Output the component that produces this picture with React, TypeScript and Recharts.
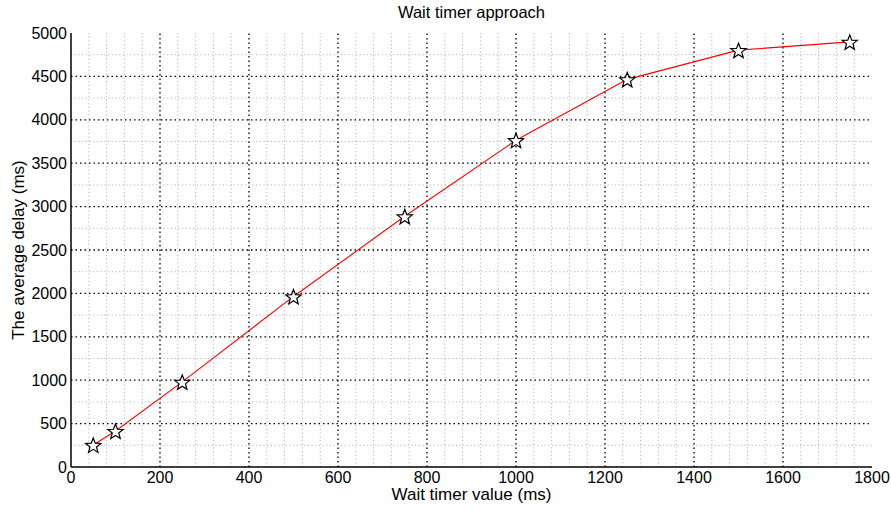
import { LineChart, Line, XAxis, YAxis, ReferenceLine } from "recharts";

const waitTimer = [50, 100, 250, 500, 750, 1000, 1250, 1500, 1750];
const avgDelay = [254, 415, 981, 1965, 2888, 3765, 4466, 4803, 4898];

const xTicks = [0, 200, 400, 600, 800, 1000, 1200, 1400, 1600, 1800];
const yTicks = [0, 500, 1000, 1500, 2000, 2500, 3000, 3500, 4000, 4500, 5000];
const xMinor = [40, 80, 120, 160, 240, 280, 320, 360, 440, 480, 520, 560, 640, 680, 720, 760, 840, 880, 920, 960, 1040, 1080, 1120, 1160, 1240, 1280, 1320, 1360, 1440, 1480, 1520, 1560, 1640, 1680, 1720, 1760];
const yMinor = [250, 750, 1250, 1750, 2250, 2750, 3250, 3750, 4250, 4750];

const data = waitTimer.map((x, i) => ({ x, y: avgDelay[i] }));

const FONT = "'Liberation Sans', Arial, Helvetica, sans-serif";

function Star(props: any) {
  const { cx, cy } = props;
  if (cx == null || cy == null) return null;
  const pts: string[] = [];
  for (let k = 0; k < 10; k++) {
    const r = k % 2 === 0 ? 8 : 3.4;
    const a = -Math.PI / 2 + (k * Math.PI) / 5;
    pts.push(`${cx + r * Math.cos(a)},${cy + 1 + r * Math.sin(a)}`);
  }
  return <polygon points={pts.join(" ")} fill="#fff" stroke="#000" strokeWidth={1.2} strokeLinejoin="miter" />;
}

export default function App() {
  const tick = { fontSize: 16, fill: "#000", fontFamily: FONT };
  const axisLine = { stroke: "#000", strokeWidth: 1.5 };
  return (
    <div style={{ position: "absolute", left: 0, top: 0, width: 891, height: 509, background: "#fff", fontFamily: FONT }}>
      <div style={{ position: "absolute", left: 71, width: 801, top: 3, textAlign: "center", fontSize: 16.5 }}>
        Wait timer approach
      </div>
      <LineChart width={891} height={509} data={data} margin={{ top: 33, right: 19, bottom: 0, left: 0 }}>
        {xMinor.map((v) => (
          <ReferenceLine key={`xm${v}`} x={v} stroke="#b5b5b5" strokeDasharray="1.2 2.5" strokeWidth={1} />
        ))}
        {yMinor.map((v) => (
          <ReferenceLine key={`ym${v}`} y={v} stroke="#b5b5b5" strokeDasharray="1.2 2.5" strokeWidth={1} />
        ))}
        {xTicks.slice(1, -1).map((v) => (
          <ReferenceLine key={`xM${v}`} x={v} stroke="#000" strokeDasharray="1.5 3" strokeWidth={1.3} />
        ))}
        {yTicks.slice(1, -1).map((v) => (
          <ReferenceLine key={`yM${v}`} y={v} stroke="#000" strokeDasharray="1.5 3" strokeWidth={1.3} />
        ))}
        <XAxis
          dataKey="x"
          type="number"
          domain={[0, 1800]}
          ticks={xTicks}
          tick={tick}
          tickLine={false}
          tickSize={0}
          tickMargin={5}
          axisLine={axisLine}
          height={42}
          interval={0}
        />
        <XAxis xAxisId="top" orientation="top" dataKey="x" type="number" domain={[0, 1800]} tick={false} tickLine={false} height={0} axisLine={axisLine} />
        <YAxis
          type="number"
          domain={[0, 5000]}
          ticks={yTicks}
          tick={tick}
          tickLine={false}
          tickSize={0}
          tickMargin={4}
          axisLine={axisLine}
          width={71}
          interval={0}
        />
        <YAxis yAxisId="right" orientation="right" type="number" domain={[0, 5000]} tick={false} tickLine={false} width={0} axisLine={axisLine} />
        <Line dataKey="y" stroke="#ff0000" strokeWidth={1.1} dot={<Star />} isAnimationActive={false} />
      </LineChart>
      <div style={{ position: "absolute", left: 71, width: 801, top: 489, textAlign: "center", fontSize: 17, lineHeight: "12px" }}>
        Wait timer value (ms)
      </div>
      <div
        style={{
          position: "absolute",
          left: 19,
          top: 250,
          transform: "translate(-50%, -50%) rotate(-90deg)",
          whiteSpace: "nowrap",
          fontSize: 17,
          lineHeight: "18px",
        }}
      >
        The average delay (ms)
      </div>
    </div>
  );
}
